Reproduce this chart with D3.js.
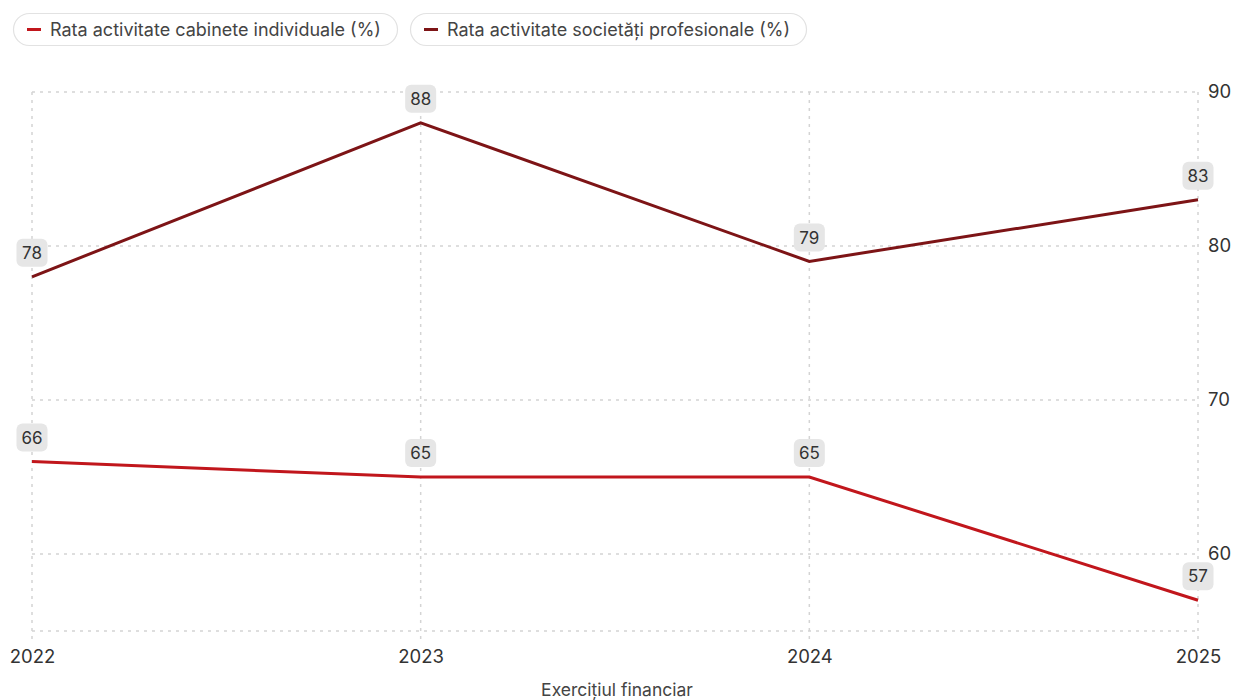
<!DOCTYPE html>
<html><head><meta charset="utf-8">
<script src="https://cdn.jsdelivr.net/npm/d3@7"></script>
<style>
body{margin:0;background:#fff;font-family:Inter,"Noto Sans",sans-serif;}
</style></head>
<body><svg id="c" width="1234" height="700"></svg>
<script>
const years = ["2022","2023","2024","2025"];
const individuale = [66,65,65,57];
const societati = [78,88,79,83];
const yTicks = [60,70,80,90];
const seriesNames = ["Rata activitate cabinete individuale (%)","Rata activitate societăți profesionale (%)"];
const colors = ["#c1161c","#7d1416"];
const xTitle = "Exercițiul financiar";

const svg = d3.select("#c");
const x = d3.scalePoint().domain(years).range([32,1198]);
const y = d3.scaleLinear().domain([55,90]).range([631,92]);

const grid = svg.append("g");
grid.selectAll("line.h").data([55,...yTicks]).join("line")
  .attr("x1",32).attr("x2",1198).attr("y1",d=>y(d)).attr("y2",d=>y(d))
  .attr("stroke","#d4d4d4").attr("stroke-width",1.5).attr("stroke-dasharray","3,5");
grid.selectAll("line.v").data(years).join("line")
  .attr("x1",d=>x(d)).attr("x2",d=>x(d)).attr("y1",92).attr("y2",643)
  .attr("stroke","#d4d4d4").attr("stroke-width",1.5).attr("stroke-dasharray","3,5");

const yAxis = d3.axisRight(y).tickValues(yTicks).tickSize(0).tickPadding(10);
const ya = svg.append("g").attr("transform","translate(1198,0)").call(yAxis);
ya.select(".domain").remove();
ya.selectAll("text").attr("font-size",18.5).attr("fill","#333").attr("font-family","Inter,sans-serif");

const xAxis = d3.axisBottom(x).tickSize(0).tickPadding(0);
const xa = svg.append("g").attr("transform","translate(0,650)").call(xAxis);
xa.select(".domain").remove();
xa.selectAll("text").attr("font-size",18.5).attr("fill","#333").attr("font-family","Inter,sans-serif");

svg.append("text").attr("x",617).attr("y",696).attr("text-anchor","middle")
  .attr("font-size",17.5).attr("fill","#444").text(xTitle);

const line = d3.line().x((d,i)=>x(years[i])).y(d=>y(d));
[individuale,societati].forEach((s,k)=>{
  svg.append("path").datum(s).attr("d",line).attr("fill","none")
    .attr("stroke",colors[k]).attr("stroke-width",3);
});
[individuale,societati].forEach((s,k)=>{
  const g = svg.append("g");
  s.forEach((v,i)=>{
    const cx = x(years[i]), cy = y(v)-24;
    g.append("rect").attr("x",cx-15.5).attr("y",cy-14).attr("width",31).attr("height",28)
      .attr("rx",6).attr("fill","#e6e6e6");
    g.append("text").attr("x",cx).attr("y",cy).attr("dy","0.36em").attr("text-anchor","middle")
      .attr("font-size",17).attr("fill","#333").text(v);
  });
});

const lx = [13,410], lw=[384,396];
seriesNames.forEach((n,k)=>{
  const g = svg.append("g").attr("transform",`translate(${lx[k]},13)`);
  g.append("rect").attr("x",0.5).attr("y",0.5).attr("width",lw[k]).attr("height",32).attr("rx",16)
    .attr("fill","#fff").attr("stroke","#e2e2e2").attr("stroke-width",1.2);
  g.append("line").attr("x1",14).attr("x2",28).attr("y1",16.5).attr("y2",16.5)
    .attr("stroke",colors[k]).attr("stroke-width",3);
  g.append("text").attr("x",37).attr("y",16.5).attr("dy","0.36em").attr("font-size",18)
    .attr("fill","#444").text(n);
});
</script></body></html>
